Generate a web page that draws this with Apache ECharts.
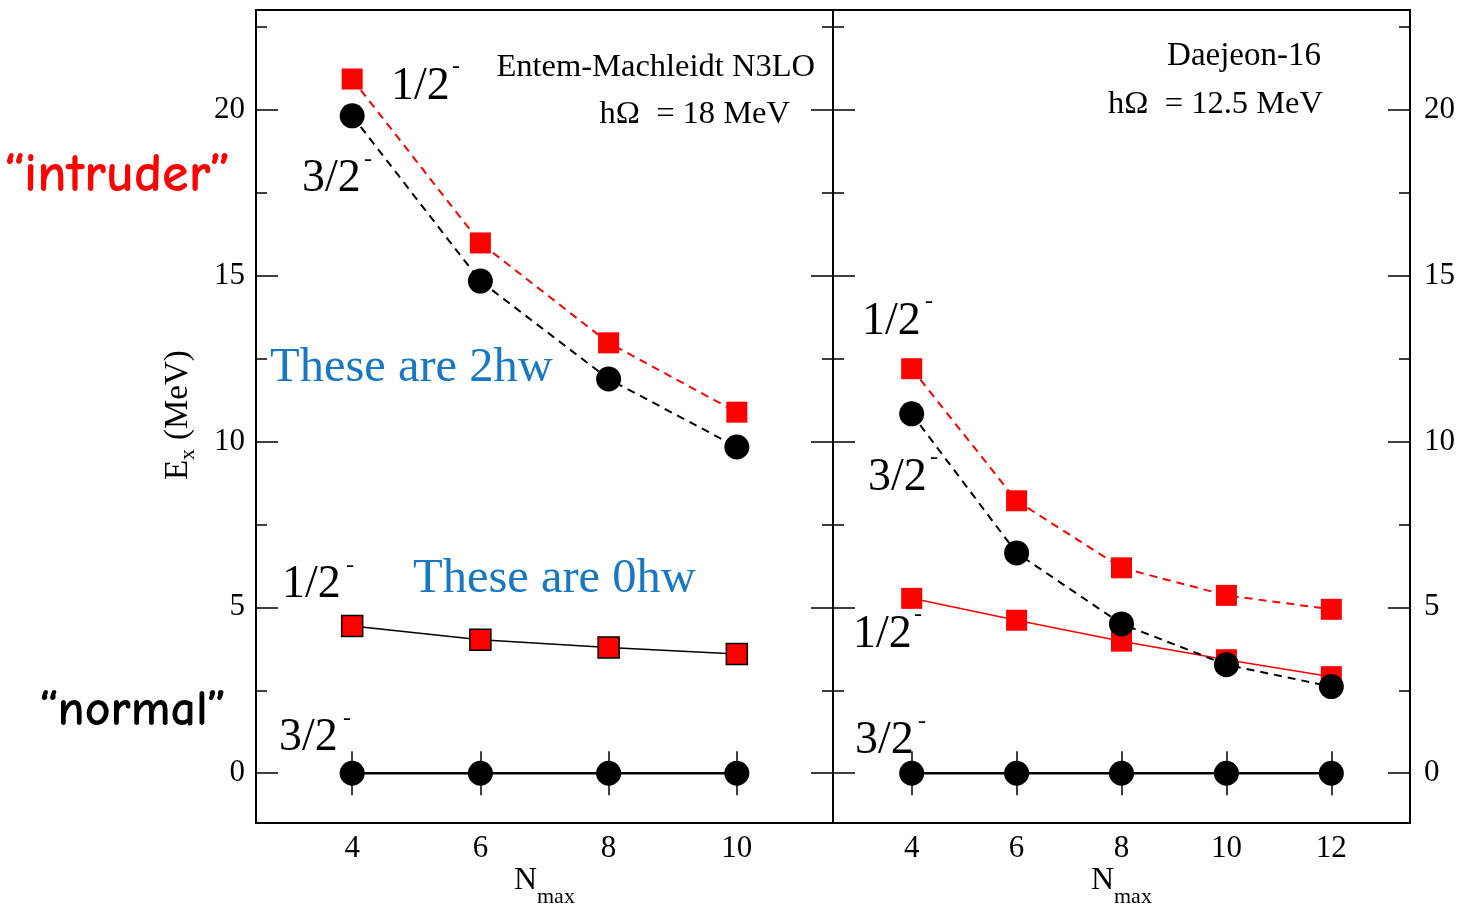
<!DOCTYPE html>
<html><head><meta charset="utf-8">
<script src="https://cdn.jsdelivr.net/npm/echarts@6/dist/echarts.min.js"></script>
<style>html,body{margin:0;padding:0;background:#fff}#c{width:1458px;height:908px}</style>
</head><body><div id="c"></div>
<script>
// ---- data ----
const nmaxLeft = [4, 6, 8, 10];
const nmaxRight = [4, 6, 8, 10, 12];
const xTicksLeft = [4, 6, 8, 10];
const xTicksRight = [4, 6, 8, 10, 12];
const yMajorTicks = [0, 5, 10, 15, 20];
const yMinorTicks = [2.5, 7.5, 12.5, 17.5, 22.5];
// Entem-Machleidt N3LO, hΩ = 18 MeV
const emIntruderHalf = [20.92, 15.98, 12.97, 10.88];
const emIntruderThreeHalf = [19.81, 14.83, 11.88, 9.83];
const emNormalHalf = [4.44, 4.02, 3.79, 3.59];
const emNormalThreeHalf = [0, 0, 0, 0];
// Daejeon-16, hΩ = 12.5 MeV
const djIntruderHalf = [12.19, 8.21, 6.19, 5.36, 4.94];
const djIntruderThreeHalf = [10.83, 6.64, 4.50, 3.27, 2.61];
const djNormalHalf = [5.27, 4.61, 3.98, 3.42, 2.91];
const djNormalThreeHalf = [0, 0, 0, 0, 0];

const FONT = "'Liberation Serif','Times New Roman',serif";
const COMIC = "'Comic Sans MS','Comic Neue','DejaVu Sans',sans-serif";
const pairs = (xs, ys) => xs.map((x, i) => [x, ys[i]]);

function xAx(grid, ticks, max, pos, labels) {
  return {
    type: 'value', gridIndex: grid, position: pos, min: 2.5, max: max,
    axisLine: { show: false }, splitLine: { show: false },
    axisTick: { show: true, inside: true, length: 22, customValues: ticks, lineStyle: { color: '#000', width: 1.5 } },
    axisLabel: { show: labels, customValues: ticks, color: '#000', fontFamily: FONT, fontSize: 31, margin: 10 }
  };
}
function yAx(grid, ticks, pos, len, labels, margin) {
  return {
    type: 'value', gridIndex: grid, position: pos, min: -1.5, max: 23,
    axisLine: { show: false }, splitLine: { show: false },
    axisTick: { show: true, inside: true, length: len, customValues: ticks, lineStyle: { color: '#000', width: 1.5 } },
    axisLabel: { show: labels, customValues: ticks, color: '#000', fontFamily: FONT, fontSize: 31, margin: margin || 10 }
  };
}

function sq(name, xi, yi, xs, ys, lineColor, lineType, lineWidth, border) {
  return {
    name: name, type: 'line', xAxisIndex: xi, yAxisIndex: yi, data: pairs(xs, ys),
    symbol: 'rect', symbolSize: 21,
    itemStyle: { color: '#ff0000', borderColor: border ? '#000' : '#ff0000', borderWidth: border ? 1.5 : 0 },
    lineStyle: { color: lineColor, type: lineType, width: lineWidth }
  };
}
function ci(name, xi, yi, xs, ys, lineType, lineWidth) {
  return {
    name: name, type: 'line', xAxisIndex: xi, yAxisIndex: yi, data: pairs(xs, ys),
    symbol: 'circle', symbolSize: 25,
    itemStyle: { color: '#000' },
    lineStyle: { color: '#000', type: lineType, width: lineWidth }
  };
}

function t(x, y, text, size, extra) {
  return { type: 'text', x: x, y: y, z: 100,
    style: Object.assign({ text: text, fontSize: size, fontFamily: FONT, fill: '#000', align: 'left', verticalAlign: 'middle' }, extra || {}) };
}
function state(x, y, text, supX, supY) {
  return [t(x, y, text, 46), t(supX, supY, '-', 24)];
}

const graphics = [].concat(
  [t(4, 176, '\u201Cintruder\u201D', 54, { fontFamily: COMIC, fill: '#ff0000', fontWeight: 'bold' })],
  [t(39, 711, '\u201Cnormal\u201D', 50, { fontFamily: COMIC, fontWeight: 'bold' })],
  state(391, 87, '1/2', 452, 67),
  state(302, 179, '3/2', 364, 160),
  state(282, 585, '1/2', 346, 566),
  state(279, 738, '3/2', 343, 719),
  state(862, 322, '1/2', 925, 302),
  state(868, 478, '3/2', 930, 458),
  state(853, 635, '1/2', 914, 615),
  state(855, 741, '3/2', 918, 722),
  [t(815, 67, 'Entem-Machleidt N3LO', 32.5, { align: 'right' })],
  [t(790, 114, 'h\u03A9  = 18 MeV', 32.5, { align: 'right' })],
  [t(1321, 56, 'Daejeon-16', 33, { align: 'right' })],
  [t(1323, 104, 'h\u03A9  = 12.5 MeV', 32.5, { align: 'right' })],
  [t(270, 368, 'These are 2hw', 48.5, { fill: '#1a78c2' })],
  [t(413, 579, 'These are 0hw', 48.5, { fill: '#1a78c2' })],
  [t(514, 881, 'N', 32), t(537, 897, 'max', 22)],
  [t(1091, 881, 'N', 32), t(1114, 897, 'max', 22)],
  [{ type: 'group', x: 178, y: 415, rotation: Math.PI / 2, z: 100,
     children: [
       t(-65, 0, 'E', 33),
       t(-45, 10, 'x', 22),
       t(-25, 0, '(MeV)', 33)
     ] }]
);

const option = {
  animation: false,
  backgroundColor: '#fff',
  grid: [
    { left: 256, top: 10, width: 577, height: 813, show: true, borderColor: '#000', borderWidth: 2, backgroundColor: 'transparent' },
    { left: 833, top: 10, width: 578, height: 813, show: true, borderColor: '#000', borderWidth: 2, backgroundColor: 'transparent' }
  ],
  xAxis: [
    xAx(0, xTicksLeft, 11.5, 'bottom', true),
    xAx(0, xTicksLeft, 11.5, 'top', false),
    xAx(1, xTicksRight, 13.5, 'bottom', true),
    xAx(1, xTicksRight, 13.5, 'top', false)
  ],
  yAxis: [
    yAx(0, yMajorTicks, 'left', 22, true, 11),
    yAx(0, yMinorTicks, 'left', 11, false),
    yAx(0, yMajorTicks, 'right', 22, false),
    yAx(0, yMinorTicks, 'right', 11, false),
    yAx(1, yMajorTicks, 'left', 22, false),
    yAx(1, yMinorTicks, 'left', 11, false),
    yAx(1, yMajorTicks, 'right', 22, true, 14),
    yAx(1, yMinorTicks, 'right', 11, false)
  ],
  series: [
    sq('EM intruder 1/2-', 0, 0, nmaxLeft, emIntruderHalf, '#ff0000', [8, 6], 2, false),
    ci('EM intruder 3/2-', 0, 0, nmaxLeft, emIntruderThreeHalf, [8, 6], 2),
    sq('EM normal 1/2-', 0, 0, nmaxLeft, emNormalHalf, '#000', 'solid', 1.5, true),
    ci('EM normal 3/2-', 0, 0, nmaxLeft, emNormalThreeHalf, 'solid', 2.5),
    sq('DJ intruder 1/2-', 2, 4, nmaxRight, djIntruderHalf, '#ff0000', [8, 6], 2, false),
    sq('DJ normal 1/2-', 2, 4, nmaxRight, djNormalHalf, '#ff0000', 'solid', 1.5, false),
    ci('DJ intruder 3/2-', 2, 4, nmaxRight, djIntruderThreeHalf, [8, 6], 2),
    ci('DJ normal 3/2-', 2, 4, nmaxRight, djNormalThreeHalf, 'solid', 2.5)
  ],
  graphic: graphics
};
const chart = echarts.init(document.getElementById('c'), null, { renderer: 'canvas' });
chart.setOption(option);
</script>
</body></html>
